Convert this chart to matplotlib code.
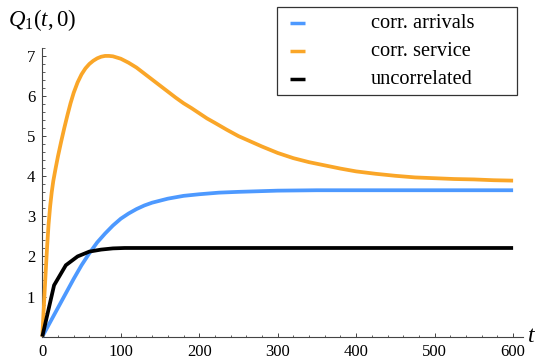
import matplotlib
matplotlib.use("Agg")
import matplotlib.pyplot as plt
from matplotlib.patches import Rectangle
from matplotlib.lines import Line2D
from matplotlib.ticker import MultipleLocator, FixedLocator

plt.rcParams['font.family'] = ['Liberation Serif', 'DejaVu Serif']
plt.rcParams['mathtext.fontset'] = 'custom'
plt.rcParams['mathtext.rm'] = 'Liberation Serif'
plt.rcParams['mathtext.it'] = 'Liberation Serif:italic'

# ---- data ----
t_arr = [0, 10, 20, 30, 40, 50, 60, 70, 80, 90, 100, 110, 120, 130, 140, 160,
         180, 200, 225, 250, 300, 350, 400, 500, 600]
q_arr = [0, 0.36, 0.72, 1.08, 1.44, 1.78, 2.08, 2.35, 2.57, 2.77, 2.94, 3.07,
         3.18, 3.27, 3.34, 3.44, 3.51, 3.55, 3.59, 3.61, 3.64, 3.65, 3.65,
         3.65, 3.65]

t_srv = [0, 2, 4, 6, 8, 10, 12, 14, 17, 20, 24, 28, 32, 36, 40, 45, 50, 55,
         60, 65, 70, 75, 80, 85, 90, 95, 100, 110, 120, 130, 140, 150, 160,
         170, 180, 190, 200, 210, 220, 235, 250, 265, 280, 300, 320, 340, 360,
         380, 400, 425, 450, 475, 500, 525, 550, 575, 600]
q_srv = [0, 0.75, 1.5, 2.2, 2.8, 3.25, 3.6, 3.88, 4.2, 4.5, 4.86, 5.2, 5.52,
         5.82, 6.08, 6.34, 6.54, 6.69, 6.8, 6.88, 6.94, 6.98, 7.0, 7.0, 6.99,
         6.96, 6.93, 6.83, 6.71, 6.56, 6.41, 6.26, 6.11, 5.96, 5.82, 5.7, 5.57,
         5.44, 5.33, 5.16, 5.0, 4.87, 4.74, 4.58, 4.45, 4.35, 4.27, 4.19, 4.12,
         4.06, 4.01, 3.97, 3.95, 3.93, 3.92, 3.9, 3.89]

t_unc = [0, 15, 30, 45, 60, 75, 90, 105, 120, 150, 200, 300, 400, 500, 600]
q_unc = [0, 1.28, 1.78, 2.0, 2.12, 2.17, 2.2, 2.21, 2.21, 2.21, 2.21, 2.21,
         2.21, 2.21, 2.21]

labels = ["corr. arrivals", "corr. service", "uncorrelated"]
colors = ["#4D99FF", "#FAA628", "#000000"]

x_major = [0, 100, 200, 300, 400, 500, 600]
y_major = [1, 2, 3, 4, 5, 6, 7]

W, H = 550, 363
fig = plt.figure(figsize=(W / 100, H / 100), dpi=100)
x0, y0 = 42.3, 336.6
ax = fig.add_axes([x0 / W, (H - y0) / H, 481 / W, 288.7 / H])

series = [(t_arr, q_arr), (t_srv, q_srv), (t_unc, q_unc)]
order = [1, 0, 2]
for i in order:
    t, q = series[i]
    ax.plot(t, q, color=colors[i], lw=2.7, solid_capstyle='butt',
            solid_joinstyle='miter' if i == 2 else 'round', clip_on=False,
            zorder=3 + i)

ax.set_xlim(0, 613)
ax.set_ylim(0, 7.2)
axcol = '#444444'
for s in ['top', 'right']:
    ax.spines[s].set_visible(False)
for s in ['left', 'bottom']:
    ax.spines[s].set_color(axcol)
    ax.spines[s].set_linewidth(0.8)

ax.xaxis.set_major_locator(FixedLocator(x_major))
ax.xaxis.set_minor_locator(MultipleLocator(20))
ax.yaxis.set_major_locator(FixedLocator(y_major))
ax.yaxis.set_minor_locator(MultipleLocator(0.2))
ax.tick_params(which='major', direction='in', length=3.2, width=0.7,
               color=axcol, labelsize=12)
ax.tick_params(which='minor', direction='in', length=1.8, width=0.6,
               color=axcol)
ax.tick_params(axis='x', which='major', pad=5)
ax.tick_params(axis='y', which='major', pad=5)

fig.text(8 / W, 1 - 20 / H, r'$\mathit{Q_1(t,0)}$', fontsize=16.5,
         ha='left', va='center')
fig.text(527 / W, 1 - 336 / H, r'$\mathit{t}$', fontsize=17,
         ha='left', va='center')

# legend box
bx0, by0, bx1, by1 = 277, 7, 517, 95
fig.patches.append(Rectangle((bx0 / W, 1 - by1 / H), (bx1 - bx0) / W,
                             (by1 - by0) / H, transform=fig.transFigure,
                             fill=True, facecolor='white', edgecolor='#333333',
                             lw=0.9, zorder=10))
rows = [23, 51, 79]
for lab, col, ry in zip(labels, colors, rows):
    fig.lines.append(Line2D([290 / W, 305 / W], [1 - ry / H, 1 - ry / H],
                            transform=fig.transFigure, color=col, lw=2.5,
                            solid_capstyle='butt', zorder=11))
    fig.text(371 / W, 1 - ry / H, lab, fontsize=14.7, ha='left', va='center',
             zorder=11)

fig.savefig("out.png", dpi=100)
